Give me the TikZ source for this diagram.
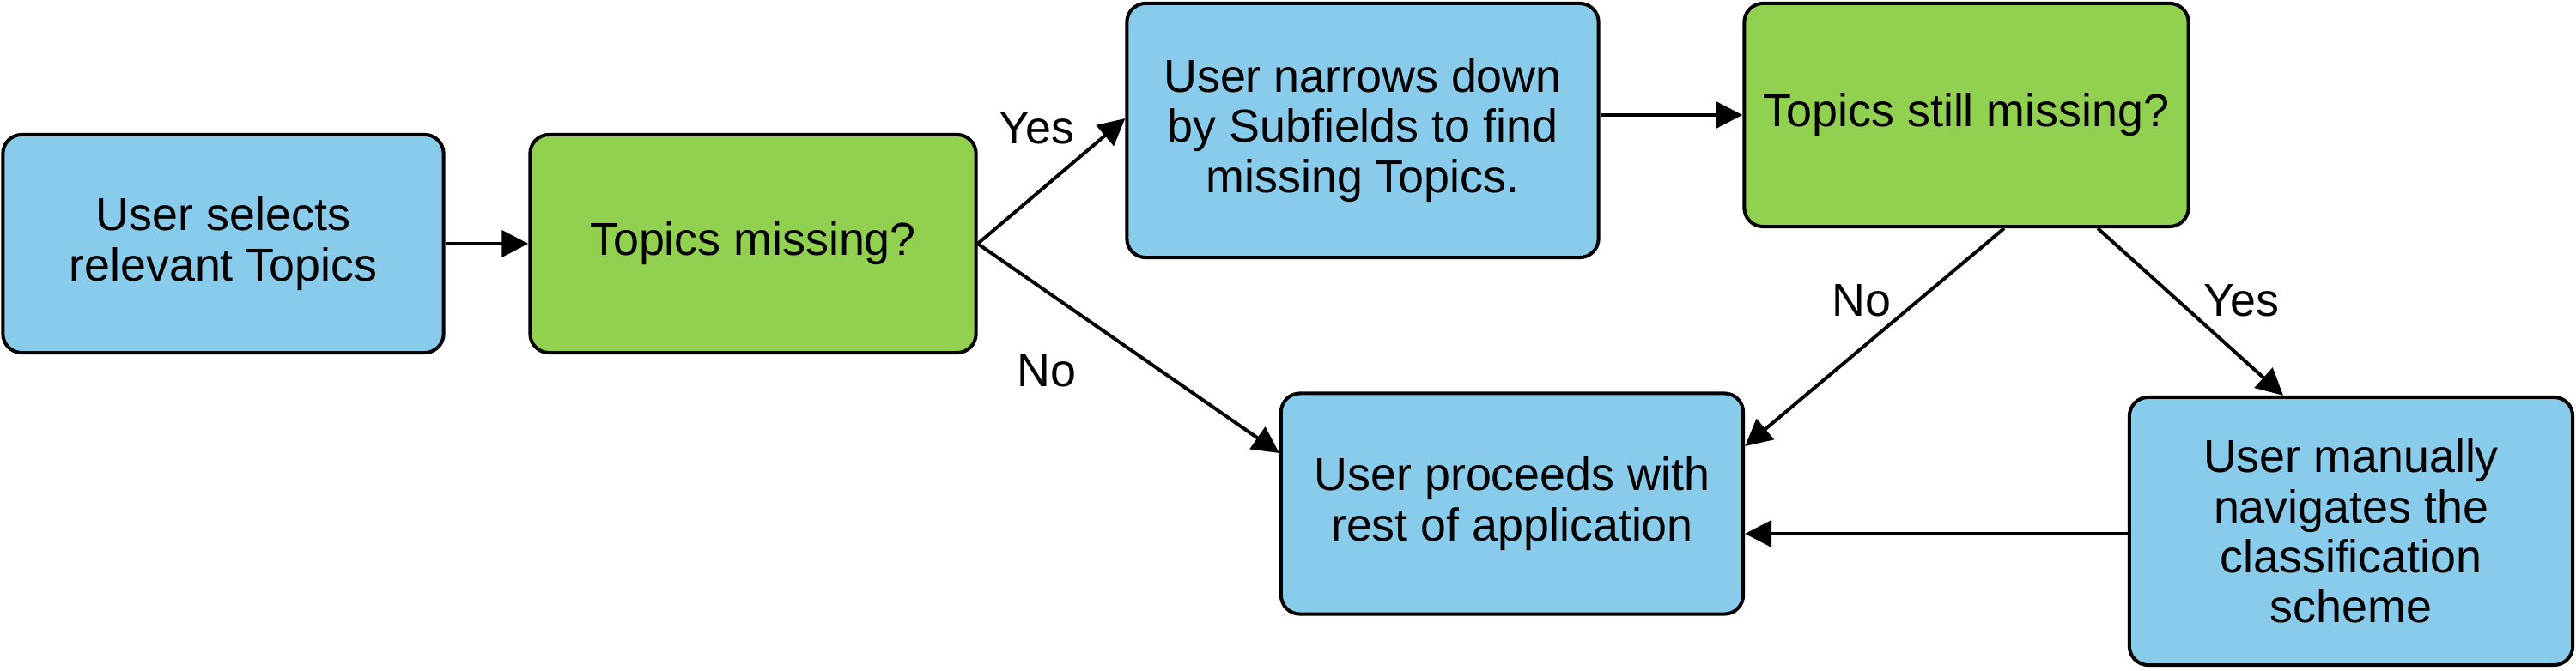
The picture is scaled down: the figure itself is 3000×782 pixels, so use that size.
\documentclass[tikz,border=0pt]{standalone}
\usepackage{fontspec}
\setmainfont{Liberation Sans}
\usetikzlibrary{arrows.meta,calc}
\definecolor{boxblue}{RGB}{137,203,235}
\definecolor{boxgreen}{RGB}{146,208,80}
\begin{document}
\begin{tikzpicture}[x=0.01cm,y=-0.01cm,
 box/.style={draw=black, line width=1.15pt, rounded corners=0.22cm, align=center, inner sep=0pt, font=\fontsize{15.3}{16.6}\selectfont},
 bluebox/.style={box, fill=boxblue},
 greenbox/.style={box, fill=boxgreen},
 arr/.style={-{Triangle[length=0.31cm,width=0.31cm]}, line width=1.15pt},
 lbl/.style={font=\fontsize{15.3}{16.6}\selectfont, inner sep=0pt}]
\useasboundingbox (0,0) rectangle (3000,782);
\node[bluebox, minimum width=5.13cm, minimum height=2.54cm] (b1) at (260,284) {User selects\\relevant Topics};
\node[greenbox, minimum width=5.19cm, minimum height=2.54cm] (b2) at (877,284) {Topics missing?};
\node[bluebox, minimum width=5.49cm, minimum height=2.96cm] (b3) at (1587,152) {User narrows down\\by Subfields to find\\missing Topics.};
\node[greenbox, minimum width=5.17cm, minimum height=2.60cm] (b4) at (2290,134) {Topics still missing?};
\node[bluebox, minimum width=5.38cm, minimum height=2.57cm] (b5) at (1761,587) {User proceeds with\\rest of application};
\node[bluebox, minimum width=5.16cm, minimum height=3.12cm] (b6) at (2738,619) {User manually\\navigates the\\classification\\scheme};
\draw[arr] (b1.east) -- (b2.west);
\draw[arr] (b2.east) -- ($(b3.west)+(0,-14)$);
\draw[arr] (b2.east) -- ($(b5.west)+(0,-59)$);
\draw[arr] (b3.east |- b4.west) -- (b4.west);
\draw[arr] ($(b4.south)+(44,0)$) -- ($(b5.east)+(0,-67)$);
\draw[arr] ($(b4.south)+(153,0)$) -- ($(b6.north)+(-79,0)$);
\coordinate (c6) at ($(b6.west)+(0,3)$);
\draw[arr] (c6) -- (b5.east |- c6);
\node[lbl] (l1) at (1207,149) {Yes};
\node[lbl] (l2) at (1219,432) {No};
\node[lbl] (l3) at (2168,350) {No};
\node[lbl] (l4) at (2610,350) {Yes};
\end{tikzpicture}
\end{document}
